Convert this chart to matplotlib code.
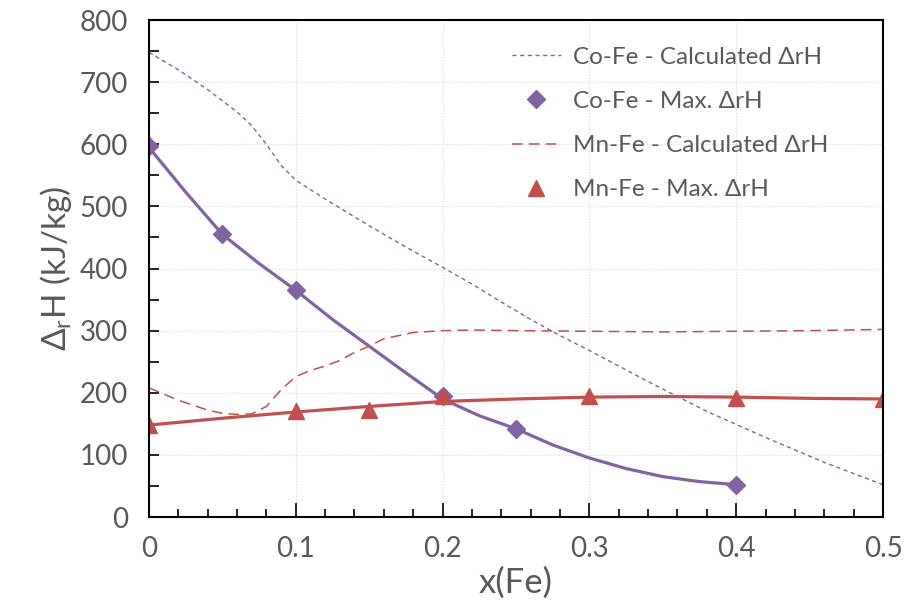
import matplotlib.pyplot as plt
from matplotlib.ticker import MultipleLocator

# Co-Fe - punkty maksymalne
co_x = [0, 0.05, 0.1, 0.2, 0.25, 0.4]
co_max = [598, 455, 365, 194, 142, 52]
# Co-Fe - krzywa przez punkty
co_fit_x = [0, 0.025, 0.05, 0.075, 0.1, 0.125, 0.15, 0.175, 0.2, 0.225, 0.25, 0.275, 0.3, 0.325, 0.35, 0.375, 0.4]
co_fit_y = [595, 523, 455, 408, 365, 318, 275, 232, 190, 163, 142, 116, 95, 78, 65, 57, 52]
# Co-Fe - obliczone
co_calc_x = [0, 0.02, 0.04, 0.06, 0.07, 0.08, 0.09, 0.1, 0.12, 0.14, 0.16, 0.18, 0.2, 0.22, 0.24,
             0.26, 0.28, 0.3, 0.32, 0.34, 0.36, 0.38, 0.4, 0.42, 0.44, 0.46, 0.48, 0.5]
co_calc_y = [748, 720, 688, 652, 630, 600, 566, 542, 512, 483, 455, 428, 402, 375, 346,
             318, 292, 268, 243, 218, 194, 170, 149, 128, 108, 88, 70, 52]

# Mn-Fe - punkty maksymalne
mn_x = [0, 0.1, 0.15, 0.2, 0.3, 0.4, 0.5]
mn_max = [148, 170, 172, 195, 194, 191, 190]
# Mn-Fe - krzywa przez punkty
mn_fit_x = [0, 0.05, 0.1, 0.15, 0.2, 0.25, 0.3, 0.35, 0.4, 0.45, 0.5]
mn_fit_y = [148, 159, 169, 178, 186, 190, 193, 194, 193, 191, 190]
# Mn-Fe - obliczone
mn_calc_x = [0, 0.02, 0.04, 0.05, 0.06, 0.07, 0.08, 0.09, 0.1, 0.11, 0.12, 0.13, 0.14, 0.15, 0.16,
             0.18, 0.2, 0.22, 0.25, 0.3, 0.35, 0.4, 0.45, 0.5]
mn_calc_y = [208, 188, 172, 167, 165, 166, 178, 205, 226, 236, 243, 252, 265, 275, 287,
             297, 300, 301, 300, 299, 298, 299, 300, 302]

purple = "#8064A2"
red = "#C0504D"
gray = "#595959"

plt.rcParams['font.family'] = ['Lato', 'DejaVu Sans']

fig = plt.figure(figsize=(9.05, 6.03), dpi=100)
ax = fig.add_axes([0.1646, 0.1426, 0.8111, 0.8242])

ax.plot(co_calc_x, co_calc_y, color=purple, lw=1.0, ls=(0, (3, 2.5)), label="Co-Fe - Calculated ΔrH")
ax.plot(co_fit_x, co_fit_y, color=purple, lw=2.3, solid_capstyle="round")
ax.plot(co_x, co_max, ls="none", marker="D", ms=9, color=purple, label="Co-Fe - Max. ΔrH")
ax.plot(mn_calc_x, mn_calc_y, color=red, lw=1.1, ls=(0, (7, 4)), label="Mn-Fe - Calculated ΔrH")
ax.plot(mn_fit_x, mn_fit_y, color=red, lw=2.3, solid_capstyle="round")
ax.plot(mn_x, mn_max, ls="none", marker="^", ms=12, color=red, label="Mn-Fe - Max. ΔrH")

ax.set_xlim(0, 0.5)
ax.set_ylim(0, 800)
ax.xaxis.set_major_locator(MultipleLocator(0.1))
ax.xaxis.set_minor_locator(MultipleLocator(0.02))
ax.yaxis.set_major_locator(MultipleLocator(100))
ax.yaxis.set_minor_locator(MultipleLocator(50))
ax.set_xticks([0, 0.1, 0.2, 0.3, 0.4, 0.5])
ax.set_xticklabels(["0", "0.1", "0.2", "0.3", "0.4", "0.5"])

ax.tick_params(axis="both", which="both", direction="in", colors="black", labelcolor=gray,
               labelsize=20, width=1.2)
ax.tick_params(axis="x", which="major", length=10, pad=14)
ax.tick_params(axis="x", which="minor", length=6)
ax.tick_params(axis="y", which="both", length=7, pad=15)

ax.grid(True, which="major", color="#d9d9d9", ls=":", lw=0.8)
for s in ax.spines.values():
    s.set_color("black")
    s.set_linewidth(1.5)

ax.set_xlabel("x(Fe)", fontsize=25, color=gray, labelpad=3)
ax.set_ylabel(r"Δ$_\mathregular{r}$H (kJ/kg)", fontsize=24, color=gray, labelpad=4)

leg = ax.legend(loc="upper right", bbox_to_anchor=(0.955, 0.99), frameon=False, fontsize=17.5,
                labelcolor=gray, handlelength=2.0, labelspacing=0.95, handletextpad=0.5,
                numpoints=1)

fig.savefig("out.png", dpi=100)
